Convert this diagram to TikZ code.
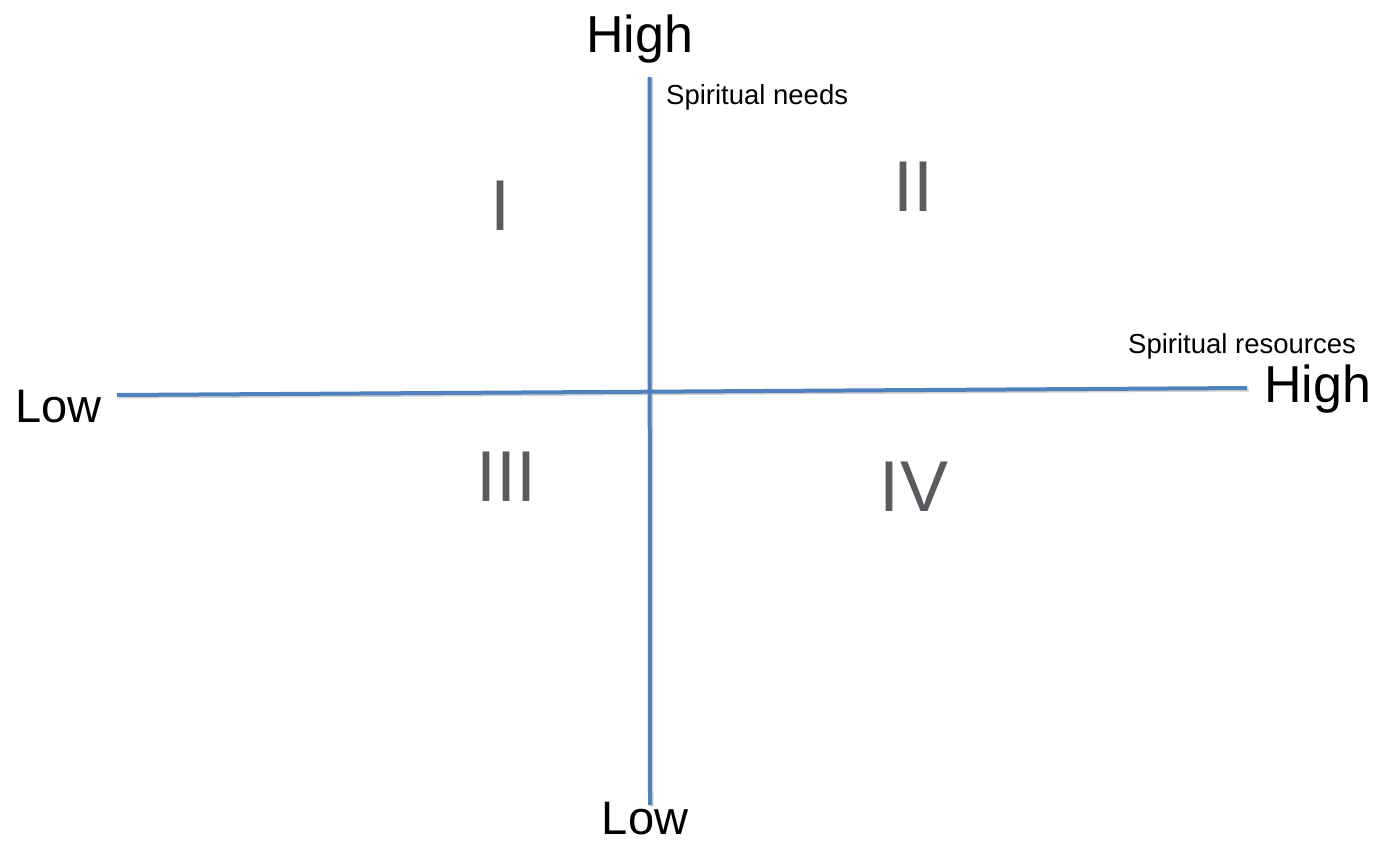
\documentclass[tikz,border=0pt]{standalone}
\usepackage{fontspec}
\setmainfont{Liberation Sans}
\definecolor{axisblue}{HTML}{4F81BD}
\definecolor{numgray}{HTML}{585C60}
\begin{document}
\begin{tikzpicture}[x=1pt,y=-1pt,
  axis/.style={draw=axisblue,line width=4pt},
  shadowline/.style={draw=black!18,line width=4pt},
  bigtxt/.style={inner sep=0pt,anchor=base,font=\fontsize{52}{60}\selectfont},
  lowtxt/.style={inner sep=0pt,anchor=base,font=\fontsize{47}{56}\selectfont},
  smalltxt/.style={inner sep=0pt,anchor=base west,font=\fontsize{27.5}{32}\selectfont},
  quad/.style={inner sep=0pt,anchor=base,text=numgray,font=\fontsize{72}{80}\selectfont}]
\useasboundingbox[fill=white] (0,0) rectangle (1381,844);
% axis end points
\coordinate (vtop) at (649.5,77);
\coordinate (vbot) at (650,805);
\coordinate (hleft) at (117,395);
\coordinate (hright) at (1247,388);
% faint shadows
\draw[shadowline] ([shift={(1.5,1.5)}]vtop) -- ([shift={(1.5,1.5)}]vbot);
\draw[shadowline] ([shift={(1.5,1.5)}]hleft) -- ([shift={(1.5,1.5)}]hright);
% axes
\draw[axis] (vtop) -- (vbot);
\draw[axis] (hleft) -- (hright);
% labels
\node[bigtxt] (hightop) at (639.5,52) {High};
\node[bigtxt] (highright) at (1317.5,402) {High};
\node[lowtxt] (lowleft) at (58.5,422) {Low};
\node[lowtxt] (lowbottom) at (645,834) {Low};
\node[smalltxt] (needs) at (666,104) {Spiritual needs};
\node[smalltxt] (resources) at (1128,353) {Spiritual resources};
% quadrants
\node[quad] (q1) at (500,230) {I};
\node[quad] (q2) at (913,211) {II};
\node[quad] (q3) at (506,501) {III};
\node[quad] (q4) at (914,511) {IV};
\end{tikzpicture}
\end{document}
